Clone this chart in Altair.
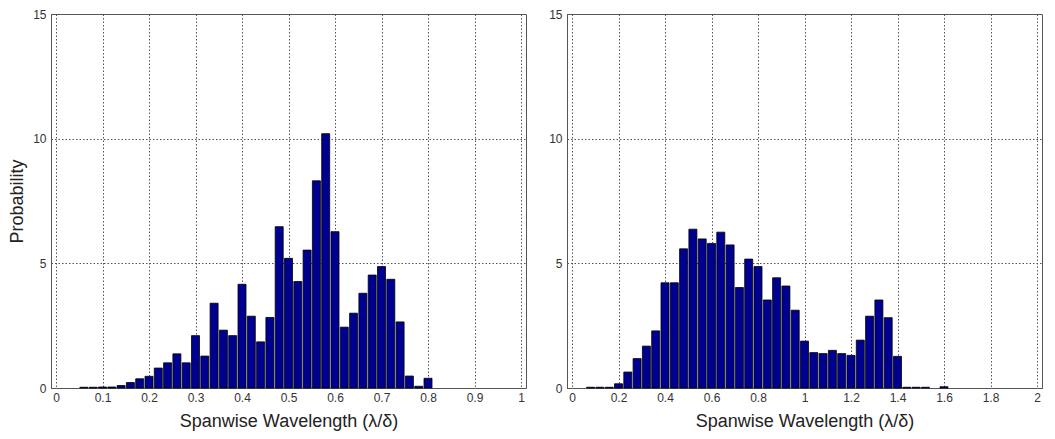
import altair as alt
import pandas as pd

# Left histogram: bin centres and probabilities
left_x = [0.06, 0.08, 0.10, 0.12, 0.14, 0.16, 0.18, 0.20, 0.22, 0.24,
          0.26, 0.28, 0.30, 0.32, 0.34, 0.36, 0.38, 0.40, 0.42, 0.44,
          0.46, 0.48, 0.50, 0.52, 0.54, 0.56, 0.58, 0.60, 0.62, 0.64,
          0.66, 0.68, 0.70, 0.72, 0.74, 0.76, 0.78, 0.80]
left_p = [0.03, 0.03, 0.04, 0.04, 0.10, 0.22, 0.37, 0.47, 0.80, 1.01,
          1.37, 1.01, 2.10, 1.28, 3.40, 2.32, 2.10, 4.16, 2.88, 1.85,
          2.83, 6.47, 5.20, 4.27, 5.53, 8.31, 10.20, 6.27, 2.44, 3.00,
          3.80, 4.53, 4.87, 4.36, 2.65, 0.48, 0.07, 0.39]

# Right histogram: bin centres and probabilities
right_x = [0.08, 0.12, 0.16, 0.20, 0.24, 0.28, 0.32, 0.36, 0.40, 0.44,
           0.48, 0.52, 0.56, 0.60, 0.64, 0.68, 0.72, 0.76, 0.80, 0.84,
           0.88, 0.92, 0.96, 1.00, 1.04, 1.08, 1.12, 1.16, 1.20, 1.24,
           1.28, 1.32, 1.36, 1.40, 1.44, 1.48, 1.52, 1.60]
right_p = [0.03, 0.03, 0.03, 0.17, 0.64, 1.18, 1.68, 2.29, 4.22, 4.22,
           5.58, 6.37, 5.98, 5.80, 6.25, 5.74, 4.03, 5.17, 4.87, 3.53,
           4.42, 4.09, 3.12, 1.88, 1.42, 1.38, 1.51, 1.38, 1.31, 1.92,
           2.88, 3.53, 2.82, 1.27, 0.03, 0.03, 0.03, 0.05]

left_ticks = [0, 0.1, 0.2, 0.3, 0.4, 0.5, 0.6, 0.7, 0.8, 0.9, 1]
right_ticks = [0, 0.2, 0.4, 0.6, 0.8, 1, 1.2, 1.4, 1.6, 1.8, 2]
y_ticks = [0, 5, 10, 15]

x_title = "Spanwise Wavelength (λ/δ)"
y_title = "Probability"

FONT = "Liberation Sans"
BAR_COLOR = "#000090"


def panel(xs, ps, xmax, ticks, ytitle):
    df = pd.DataFrame({"x": xs, "p": ps})
    if ytitle:
        yaxis = alt.Axis(values=y_ticks, title=ytitle, labelPadding=5, titlePadding=6)
    else:
        yaxis = alt.Axis(values=y_ticks, title=None, labelPadding=5)
    return (
        alt.Chart(df)
        .mark_bar(size=8, color=BAR_COLOR, stroke="#000000", strokeWidth=0.8)
        .encode(
            x=alt.X("x:Q", scale=alt.Scale(domain=[0, xmax], nice=False),
                    axis=alt.Axis(values=ticks, format="~g", title=x_title,
                                  labelPadding=4, titlePadding=9)),
            y=alt.Y("p:Q", scale=alt.Scale(domain=[0, 15], nice=False),
                    axis=yaxis),
        )
        .properties(width=475, height=374)
    )


left = panel(left_x, left_p, 1, left_ticks, y_title)
right = panel(right_x, right_p, 2, right_ticks, None)

chart = (
    alt.hconcat(left, right, spacing=21)
    .properties(padding={"left": 8, "top": 7, "right": 5, "bottom": 5},
                background="white")
    .configure_view(stroke="#555555", strokeWidth=1)
    .configure_axis(
        grid=True,
        gridColor="#555555",
        gridDash=[1.5, 2],
        gridOpacity=1,
        gridWidth=1,
        domainColor="#555555",
        ticks=False,
        labelFont=FONT,
        labelFontSize=12,
        labelColor="#333333",
        titleFont=FONT,
        titleFontSize=18,
        titleFontWeight="normal",
        titleColor="#222222",
    )
)

chart.save("out.html", embed_options={"renderer": "svg", "actions": False})
